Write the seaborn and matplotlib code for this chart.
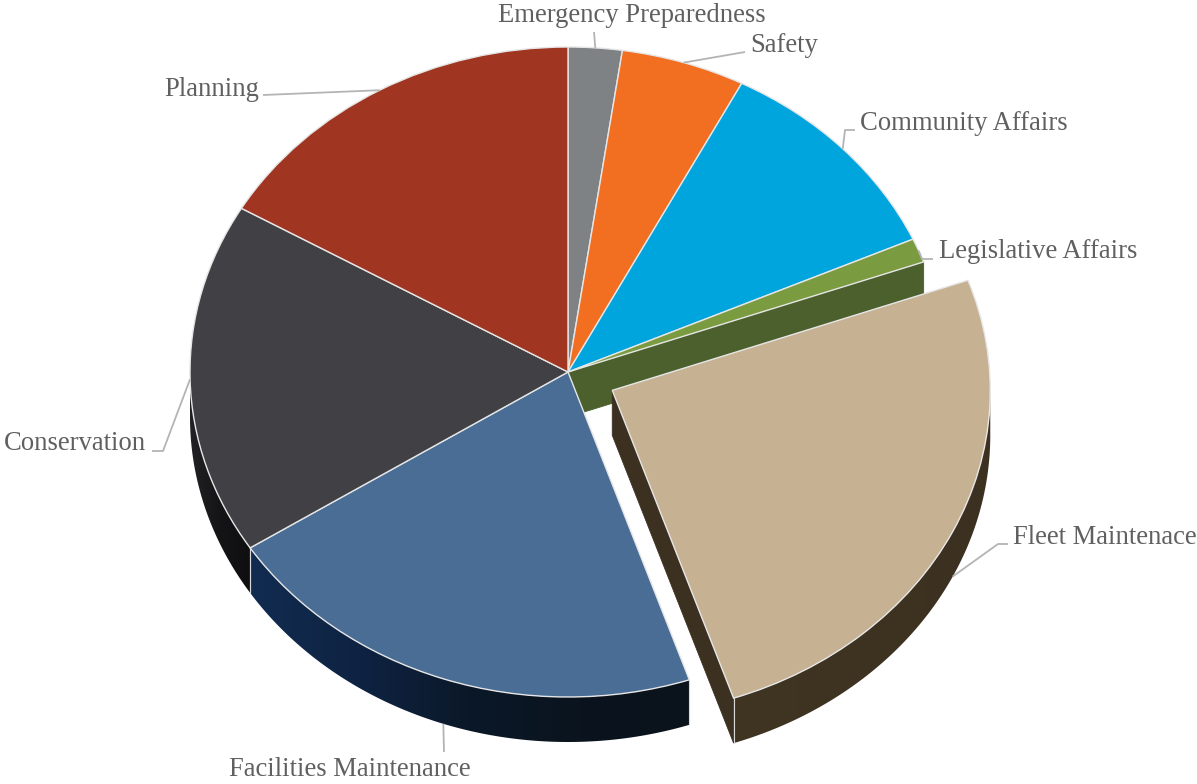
import numpy as np
import matplotlib
matplotlib.use("Agg")
import matplotlib.pyplot as plt
import seaborn as sns
from matplotlib.patches import Polygon
from matplotlib.colors import LinearSegmentedColormap

# ---- data -------------------------------------------------------------
categories = [
    "Emergency Preparedness", "Safety", "Community Affairs",
    "Legislative Affairs", "Fleet Maintenace", "Facilities Maintenance",
    "Conservation", "Planning",
]
shares = [2.3, 5.3, 10.7, 1.2, 25.3, 21.1, 17.5, 16.6]
exploded = "Fleet Maintenace"

top_colors = ["#7f8284", "#f26f22", "#00a5de", "#7a9b40",
              "#c6b293", "#4a6d96", "#414045", "#a03622"]
# side-wall shading stops, left to right across each wall
wall_colors = [
    ["#3c3d3e", "#3c3d3e"],
    ["#7a3510", "#7a3510"],
    ["#00506c", "#00506c"],
    ["#4b602c", "#4b602c"],
    ["#403422", "#3c3020"],
    ["#112c50", "#0e2342", "#0b1828", "#0a141e", "#0a131c"],
    ["#222226", "#141417", "#0f0f12"],
    ["#4e1a10", "#4e1a10"],
]

# ---- layout -------------------------------------------------------------
W, H = 1197, 784
CX, CY = 568, 372          # pie centre (px)
RX, RY = 378, 325          # projected radii (px)
DEPTH = 45 / RY            # wall height in data units
EXPLODE = 0.13


def px(x, y):
    """Pixel position -> data position."""
    return ((x - CX) / RX, (CY - y) / RY)


sns.set_theme(style="white")
plt.rcParams["font.family"] = ["Liberation Serif", "DejaVu Serif"]

fig = plt.figure(figsize=(W / 100, H / 100), dpi=100)
ax = fig.add_axes([0, 0, 1, 1])

explode = [EXPLODE if c == exploded else 0 for c in categories]
wedges, _ = ax.pie(shares, colors=top_colors, startangle=90,
                   counterclock=False, explode=explode, radius=1,
                   wedgeprops=dict(edgecolor="#e6e6e6", linewidth=1.0))
for w in wedges:
    w.set_zorder(3)


def arc(c, r, lo, hi, n=120):
    t = np.radians(np.linspace(lo, hi, n))
    return np.column_stack([c[0] + r * np.cos(t), c[1] + r * np.sin(t)])


def visible_ranges(t1, t2):
    for k in range(-2, 2):
        lo, hi = max(t1, 180 + 360 * k), min(t2, 360 + 360 * k)
        if hi > lo:
            yield lo, hi


def draw_outer_wall(w, stops):
    c = np.array(w.center)
    cmap = LinearSegmentedColormap.from_list("wall", stops)
    for lo, hi in visible_ranges(w.theta1, w.theta2):
        top = arc(c, w.r, lo, hi, 200)
        bot = top - [0, DEPTH]
        pts = np.vstack([top, bot[::-1]])
        x0, x1 = pts[:, 0].min(), pts[:, 0].max()
        y0, y1 = pts[:, 1].min(), pts[:, 1].max()
        clip = Polygon(pts, closed=True, facecolor="none", edgecolor="none",
                       transform=ax.transData)
        ax.add_patch(clip)
        grad = np.linspace(0, 1, 256)[None, :]
        im = ax.imshow(grad, cmap=cmap, extent=[x0, x1, y0, y1],
                       aspect="auto", interpolation="bilinear", zorder=2)
        im.set_clip_path(clip)
        # thin highlight on the vertical seams of the wall
        for a in (lo, hi):
            if abs(a % 180) > 1e-6:
                p = c + w.r * np.array([np.cos(np.radians(a)),
                                        np.sin(np.radians(a))])
                ax.plot([p[0], p[0]], [p[1], p[1] - DEPTH],
                        color="#d8d8d8", lw=0.8, zorder=2.6)


def draw_radial_face(w, phi, outward, col):
    c = np.array(w.center)
    t = np.radians(phi)
    normal_y = outward * -np.cos(t)
    if normal_y >= 0:
        return
    p = c + w.r * np.array([np.cos(t), np.sin(t)])
    pts = [c, p, p - [0, DEPTH], c - [0, DEPTH]]
    ax.add_patch(Polygon(pts, closed=True, facecolor=col, edgecolor=col,
                         lw=0.6, zorder=2.5))


ie = categories.index(exploded)
for i in (ie - 1, ie, ie + 1):
    w = wedges[i]
    col = wall_colors[i][-1]
    draw_radial_face(w, w.theta1, 1, col)
    draw_radial_face(w, w.theta2, -1, col)

for w, stops in zip(wedges, wall_colors):
    draw_outer_wall(w, stops)

# ---- labels -------------------------------------------------------------
label_layout = {
    "Emergency Preparedness": ([(594, 32)], (632, 16), "center"),
    "Safety": ([(745, 52)], (750, 46), "left"),
    "Community Affairs": ([(845, 130), (855, 130)], (860, 123), "left"),
    "Legislative Affairs": ([(922, 259), (933, 259)], (939, 251), "left"),
    "Fleet Maintenace": ([(998, 544), (1008, 544)], (1013, 538), "left"),
    "Facilities Maintenance": ([(444, 752)], (350, 769), "center"),
    "Conservation": ([(163, 451), (152, 451)], (146, 444), "right"),
    "Planning": ([(263, 95)], (259, 89), "right"),
}

for name, w in zip(categories, wedges):
    mid = np.radians((w.theta1 + w.theta2) / 2)
    c = np.array(w.center)
    anchor = c + w.r * np.array([np.cos(mid), np.sin(mid)])
    if np.sin(mid) < -0.3:
        anchor = anchor - [0, DEPTH]
    elbows, tpos, ha = label_layout[name]
    pts = [anchor] + [px(*e) for e in elbows]
    xs, ys = zip(*pts)
    ax.plot(xs, ys, color="#b4b4b4", lw=1.3, zorder=4,
            solid_capstyle="butt")
    ax.text(*px(*tpos), name, ha=ha, va="center", fontsize=19.2,
            color="#606060", zorder=5)

ax.set_aspect("auto")
ax.set_xlim(-CX / RX, (W - CX) / RX)
ax.set_ylim(-(H - CY) / RY, CY / RY)
ax.axis("off")

fig.savefig("out.png", dpi=100, facecolor="white")
